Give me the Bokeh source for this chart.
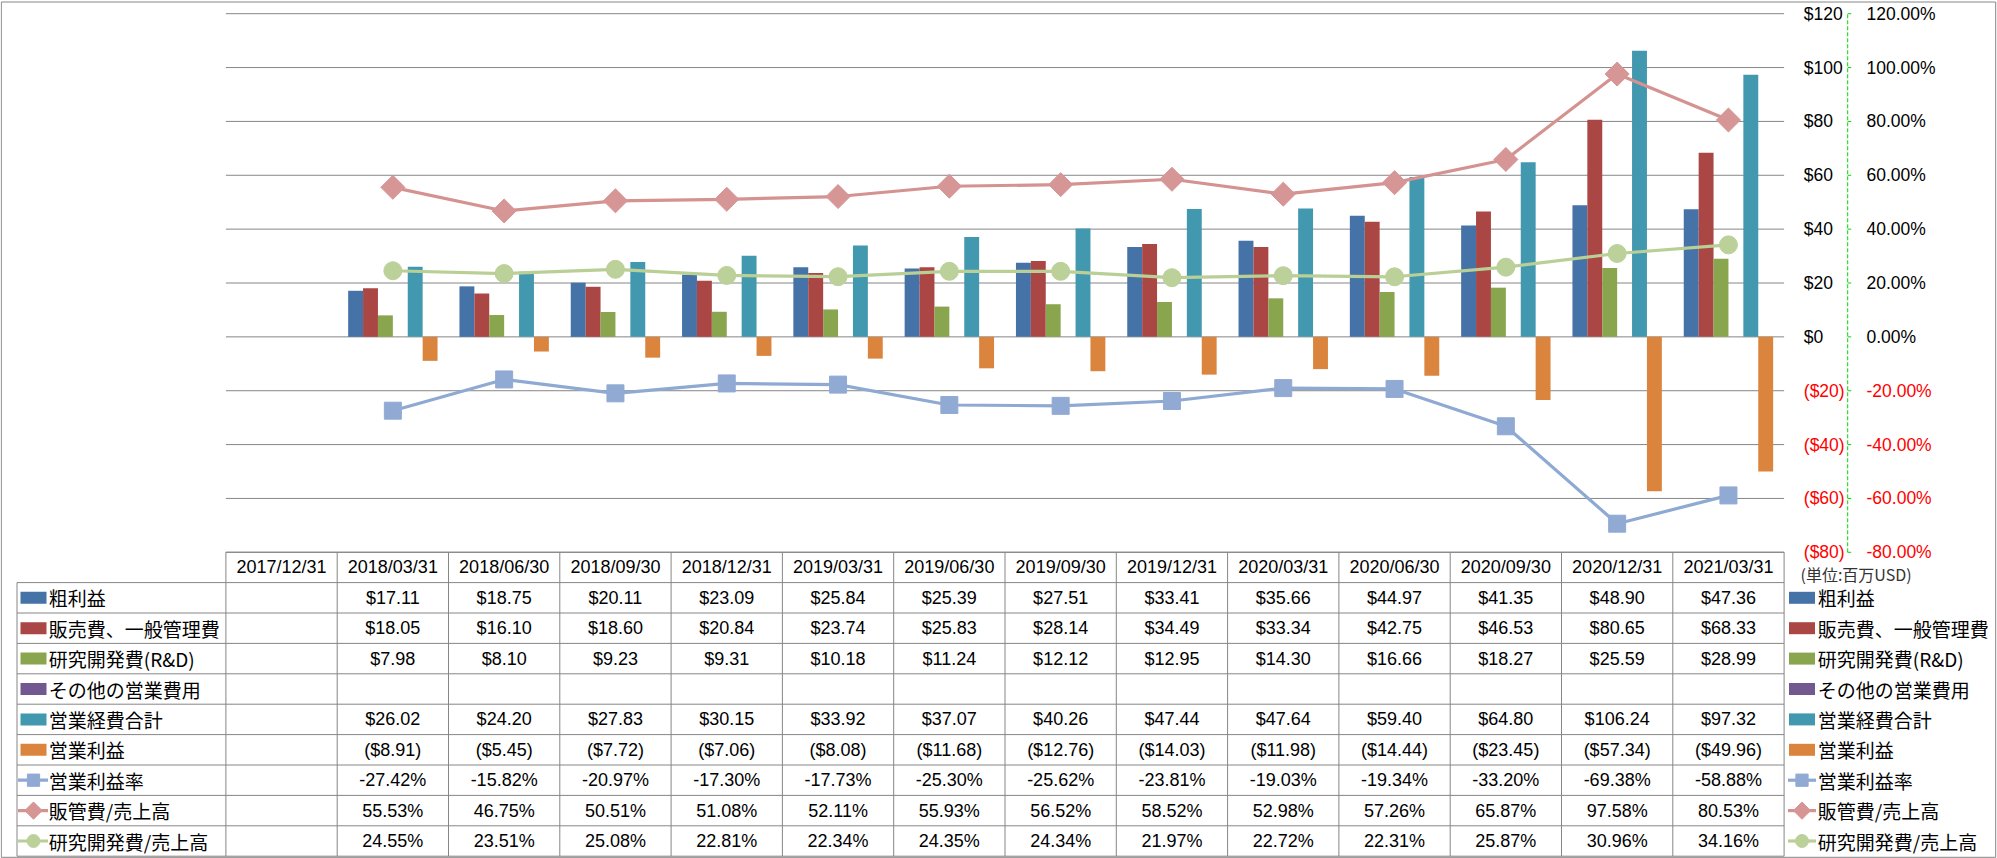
import numpy as np
from bokeh.plotting import figure
from bokeh.models import Range1d
from bokeh.core.properties import value
from bokeh.embed import file_html
from bokeh.resources import INLINE

# ---------------- data ----------------
dates = ["2017/12/31", "2018/03/31", "2018/06/30", "2018/09/30", "2018/12/31",
         "2019/03/31", "2019/06/30", "2019/09/30", "2019/12/31", "2020/03/31",
         "2020/06/30", "2020/09/30", "2020/12/31", "2021/03/31"]
gross_profit = [None, 17.11, 18.75, 20.11, 23.09, 25.84, 25.39, 27.51, 33.41, 35.66, 44.97, 41.35, 48.90, 47.36]
sga_expense = [None, 18.05, 16.10, 18.60, 20.84, 23.74, 25.83, 28.14, 34.49, 33.34, 42.75, 46.53, 80.65, 68.33]
rnd_expense = [None, 7.98, 8.10, 9.23, 9.31, 10.18, 11.24, 12.12, 12.95, 14.30, 16.66, 18.27, 25.59, 28.99]
other_opex = [None] * 14
total_opex = [None, 26.02, 24.20, 27.83, 30.15, 33.92, 37.07, 40.26, 47.44, 47.64, 59.40, 64.80, 106.24, 97.32]
operating_income = [None, -8.91, -5.45, -7.72, -7.06, -8.08, -11.68, -12.76, -14.03, -11.98, -14.44, -23.45, -57.34, -49.96]
op_margin = [None, -27.42, -15.82, -20.97, -17.30, -17.73, -25.30, -25.62, -23.81, -19.03, -19.34, -33.20, -69.38, -58.88]
sga_ratio = [None, 55.53, 46.75, 50.51, 51.08, 52.11, 55.93, 56.52, 58.52, 52.98, 57.26, 65.87, 97.58, 80.53]
rnd_ratio = [None, 24.55, 23.51, 25.08, 22.81, 22.34, 24.35, 24.34, 21.97, 22.72, 22.31, 25.87, 30.96, 34.16]

bar_names = ["粗利益", "販売費、一般管理費", "研究開発費(R&D)", "その他の営業費用", "営業経費合計", "営業利益"]
line_names = ["営業利益率", "販管費/売上高", "研究開発費/売上高"]
dollar_ticks = [120, 100, 80, 60, 40, 20, 0, -20, -40, -60, -80]
pct_ticks = [1.2, 1.0, 0.8, 0.6, 0.4, 0.2, 0.0, -0.2, -0.4, -0.6, -0.8]
unit_label = "(単位:百万USD)"

# ---------------- styles / geometry ----------------
bar_colors = ["#4572A7", "#AA4643", "#89A54E", "#71588F", "#4198AF", "#DB843D"]
line_colors = ["#8EA9D2", "#D49291", "#B9CF96"]
marker_colors = ["#90AAD4", "#D69695", "#BBD199"]
grid_color = "#868686"
NUM_FONT = value("Liberation Sans")
CJK_FONT = value("Noto Sans CJK JP")

W, H = 1997, 858
PLOT_L = 225.4          # px, left edge of first category
COL_W = 111.3           # px per category
Y_TOP_PX, Y_BOT_PX = 13.2, 551.8   # px of $120 and ($80)
ROW0_PX, ROW_H = 551.7, 30.4       # table top and row height
BAR_W = 14.9 / COL_W

n = len(dates)


def xd(px):
    return (px - PLOT_L) / COL_W


ppu = (Y_BOT_PX - Y_TOP_PX) / 200.0
y_start = -80 - (H - Y_BOT_PX) / ppu
y_end = 120 + Y_TOP_PX / ppu


def ypx(px):
    return y_end - px / ppu


p = figure(width=W, height=H, x_range=Range1d(xd(0), xd(W)), y_range=Range1d(y_start, y_end),
           x_axis_type=None, y_axis_type=None, toolbar_location=None,
           output_backend="svg", min_border=0)
p.outline_line_color = None
p.background_fill_color = "white"
p.border_fill_color = "white"
p.extra_y_ranges = {
    "pct": Range1d(y_start / 100.0, y_end / 100.0),
    "tbl": Range1d((H - ROW0_PX) / ROW_H, -ROW0_PX / ROW_H),
}

# outer chart border
p.quad(left=[xd(0.8)], right=[xd(1995.2)], top=[ypx(1.5)], bottom=[ypx(856.8)],
       fill_color=None, line_color=grid_color, line_width=1)

# gridlines
p.segment(x0=[0] * len(dollar_ticks), x1=[n] * len(dollar_ticks),
          y0=dollar_ticks, y1=dollar_ticks, line_color=grid_color, line_width=1)

# bars
bar_series = [gross_profit, sga_expense, rnd_expense, other_opex, total_opex, operating_income]
for j, (vals, col) in enumerate(zip(bar_series, bar_colors)):
    xs = [i + 0.5 + (j - 2.5) * BAR_W for i, v in enumerate(vals) if v is not None]
    ys = [v for v in vals if v is not None]
    if xs:
        p.vbar(x=xs, top=ys, bottom=0, width=BAR_W, fill_color=col, line_color=None)

# lines with markers
line_series = [op_margin, sga_ratio, rnd_ratio]
markers = [("square", 0.0, 17), ("square", np.pi / 4, 17), ("circle", 0.0, 18)]
for vals, lc, mc, (mk, ang, sz) in zip(line_series, line_colors, marker_colors, markers):
    xs = [i + 0.5 for i, v in enumerate(vals) if v is not None]
    ys = [v / 100.0 for v in vals if v is not None]
    p.line(x=xs, y=ys, y_range_name="pct", line_color=lc, line_width=3.2)
    p.scatter(x=xs, y=ys, y_range_name="pct", marker=mk, angle=ang, size=sz,
              fill_color=mc, line_color=mc)

# right axes: dollar labels
p.text(x=[xd(1803.3)] * len(dollar_ticks), y=dollar_ticks,
       text=[("$%d" % t) if t >= 0 else ("($%d)" % -t) for t in dollar_ticks],
       text_color=["black" if t >= 0 else "#FF0000" for t in dollar_ticks],
       text_font=NUM_FONT, text_font_size="17.5px", text_align="left", text_baseline="middle")
# green dashed secondary axis line + ticks
AX2 = 1847.2
p.segment(x0=[xd(AX2)], x1=[xd(AX2)], y0=[pct_ticks[-1]], y1=[pct_ticks[0]], y_range_name="pct",
          line_color="#00D800", line_width=1, line_dash="4 2")
p.segment(x0=[xd(AX2)] * len(pct_ticks), x1=[xd(AX2 + 3.5)] * len(pct_ticks), y0=pct_ticks, y1=pct_ticks,
          y_range_name="pct", line_color="#00D800", line_width=1)
p.text(x=[xd(1866)] * len(pct_ticks), y=pct_ticks,
       text=["%.2f%%" % (t * 100) for t in pct_ticks],
       text_color=["black" if t >= 0 else "#FF0000" for t in pct_ticks],
       y_range_name="pct", text_font=NUM_FONT, text_font_size="17.5px",
       text_align="left", text_baseline="middle")

# ---------------- data table ----------------
TBL_L = xd(16.5)
nrows = 9
# horizontal lines
p.segment(x0=[0], x1=[n], y0=[0], y1=[0], y_range_name="tbl", line_color=grid_color)
p.segment(x0=[TBL_L] * (nrows + 1), x1=[n] * (nrows + 1), y0=list(range(1, nrows + 2)),
          y1=list(range(1, nrows + 2)), y_range_name="tbl", line_color=grid_color)
# vertical lines
p.segment(x0=[TBL_L], x1=[TBL_L], y0=[1], y1=[nrows + 1], y_range_name="tbl", line_color=grid_color)
p.segment(x0=list(range(n + 1)), x1=list(range(n + 1)), y0=[0] * (n + 1), y1=[nrows + 1] * (n + 1),
          y_range_name="tbl", line_color=grid_color)

# header
p.text(x=[i + 0.5 for i in range(n)], y=[0.5] * n, text=dates, y_range_name="tbl",
       text_font=NUM_FONT, text_font_size="18px", text_align="center", text_baseline="middle",
       text_color="black")


def fmt_dollar(v):
    if v is None:
        return ""
    return ("$%.2f" % v) if v >= 0 else ("($%.2f)" % -v)


def fmt_pct(v):
    return "" if v is None else "%.2f%%" % v


rows = [[fmt_dollar(v) for v in s] for s in bar_series] + [[fmt_pct(v) for v in s] for s in line_series]
cx, cy, ct = [], [], []
for k, r in enumerate(rows):
    for i, t in enumerate(r):
        if t:
            cx.append(i + 0.5)
            cy.append(k + 1.5)
            ct.append(t)
p.text(x=cx, y=cy, text=ct, y_range_name="tbl", text_font=NUM_FONT, text_font_size="18px",
       text_align="center", text_baseline="middle", text_color="black")

# legend keys (left in table, and right of table)
all_names = bar_names + line_names
row_y = [k + 1.5 for k in range(len(all_names))]
for (sw_c, l0, l1, txt_x) in [(33.0, 17.5, 47.5, 48.3), (1801.5, 1787.5, 1815.5, 1817.3)]:
    p.rect(x=[xd(sw_c)] * 6, y=row_y[:6], width=26, height=12, width_units="screen",
           height_units="screen", fill_color=bar_colors, line_color=None, y_range_name="tbl")
    for m, (lc, mc, (mk, ang, sz)) in enumerate(zip(line_colors, marker_colors, markers)):
        yy = row_y[6 + m]
        p.segment(x0=[xd(l0)], x1=[xd(l1)], y0=[yy], y1=[yy], y_range_name="tbl",
                  line_color=lc, line_width=3.2)
        p.scatter(x=[xd(sw_c)], y=[yy], y_range_name="tbl", marker=mk, angle=ang,
                  size=sz * 0.72, fill_color=mc, line_color=mc)
    p.text(x=[xd(txt_x)] * len(all_names), y=row_y, text=all_names, y_range_name="tbl",
           text_font=CJK_FONT, text_font_size="19px", text_align="left", text_baseline="middle",
           text_color="black")

# unit label
p.text(x=[xd(1800)], y=[(573.5 - ROW0_PX) / ROW_H], text=[unit_label], y_range_name="tbl",
       text_font=CJK_FONT, text_font_size="16px", text_align="left", text_baseline="middle",
       text_color="#333333")

open("out.html", "w").write(file_html(p, INLINE))
